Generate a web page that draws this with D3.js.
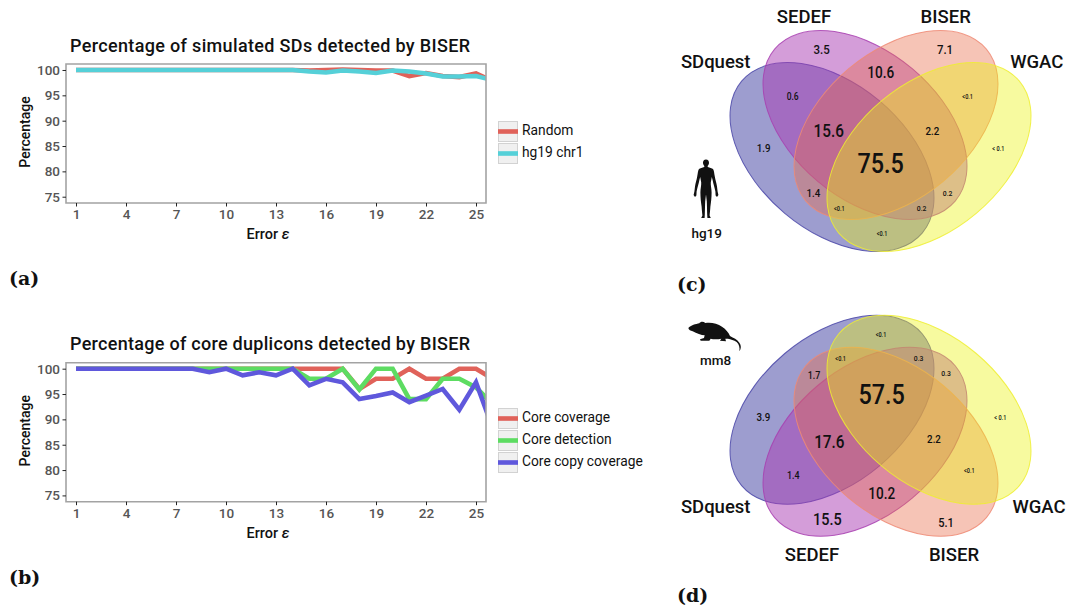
<!DOCTYPE html>
<html>
  <head>
    <meta charset="utf-8">
    <title>BISER</title>
    <style>
      body { margin: 0; padding: 0; background: #fff; font-family: 'Roboto', sans-serif; }
      svg { display: block; }
    </style>
  </head>
  <body>
    <div id="chart"></div>
    <script src="https://cdnjs.cloudflare.com/ajax/libs/d3/7.8.5/d3.min.js"></script>
    <script>
      // Data
      const errors = d3.range(1, 27);
      const xTicks = [1, 4, 7, 10, 13, 16, 19, 22, 25];
      const yTicks = [75, 80, 85, 90, 95, 100];

      const randomSim = [100, 100, 100, 100, 100, 100, 100, 100, 100, 100, 100, 100, 100, 100, 99.9, 100, 100.1, 100, 99.9, 99.9, 98.8, 99.4, 98.8, 98.6, 99.3, 97.8];
      const hg19Sim = [100, 100, 100, 100, 100, 100, 100, 100, 100, 100, 100, 100, 100, 100, 99.7, 99.5, 99.9, 99.7, 99.4, 99.9, 99.7, 99.3, 98.7, 98.7, 98.8, 98];

      const coreCoverage = [100, 100, 100, 100, 100, 100, 100, 100, 100, 100, 100, 100, 100, 100, 100, 100, 100, 96, 98, 98, 100, 98, 98, 100, 100, 98];
      const coreDetection = [100, 100, 100, 100, 100, 100, 100, 100, 100, 100, 100, 100, 100, 100, 98, 98, 100, 95.9, 100, 100, 94, 94, 98, 98, 96.3, 93];
      const coreCopy = [100, 100, 100, 100, 100, 100, 100, 100, 99.3, 100, 98.7, 99.3, 98.7, 100, 96.7, 98, 97.3, 94, 94.6, 95.3, 93.4, 94.7, 96, 91.9, 97.3, 88.3];

      const tools = ['SDquest', 'SEDEF', 'BISER', 'WGAC'];
      const hg19Labels = ['3.5', '7.1', '10.6', '0.6', '<0.1', '15.6', '2.2', '< 0.1', '1.9', '75.5', '1.4', '0.2', '<0.1', '0.2', '<0.1'];
      const mm8Labels = ['<0.1', '<0.1', '0.3', '0.3', '1.7', '57.5', '< 0.1', '3.9', '17.6', '2.2', '1.4', '<0.1', '10.2', '15.5', '5.1'];

      // Styles and layout, kept apart from the values
      const RED = '#e0625a', TEAL = '#55d0d8', GREEN = '#5ddc62', BLUE = '#5f58dc';
      const TOOL_COLORS = ['#3c3ca0', '#aa3cb4', '#e86b48', '#ebf20f'];
      const TOOL_ALPHAS = [0.5, 0.5, 0.4, 0.4];
      const TOOL_STROKES = ['#4a46a8', '#a840b0', '#ee8a74', '#eeee30'];
      // offset of each ellipse centre from the diagram centre, and its tilt
      const ELLIPSE_DX = [-49, -16, 15, 48];
      const ELLIPSE_DY = [16, -16, -16, 16];
      const ELLIPSE_TILT = [40, 40, -40, -40];
      const ELLIPSE_RX = 118, ELLIPSE_RY = 73.5;

      const hg19Spots = [[455,148,13.5],[825,148,13.5],[632,218,16],[368,290,10],[893,290,6.5],[476,393,18],[787,393,11.5],[985,445,6.5],[281,445,11.5],[632,490,27.5],[430,578,11.5],[833,578,8],[508,625,6.5],[755,625,8],[636,700,6.5]];
      const mm8Spots = [[633,88,6.5],[512,160,6.5],[746,160,8],[828,205,8],[432,212,10.5],[635,268,27.5],[991,338,6.5],[280,335,11.5],[478,410,18],[792,402,11.5],[370,512,10.5],[898,497,6.5],[635,565,16],[472,642,17],[828,652,13]];

      const svg = d3.select('#chart').append('svg')
        .attr('width', 1067)
        .attr('height', 609);

      const x = d3.scaleLinear().domain([1, 25]).range([76, 476]);

      function drawChart(top, title, series, legendTop) {
        const bottom = top + 139;
        const y = d3.scaleLinear().domain([73.76, 101.18]).range([bottom, top]);
        const clipId = 'clip' + Math.round(top);
        const right = 486, left = 66;

        svg.append('clipPath').attr('id', clipId)
          .append('rect')
          .attr('x', left).attr('y', top)
          .attr('width', right - left).attr('height', bottom - top);

        // Lines
        const line = d3.line().x((d, i) => x(errors[i])).y(d => y(d));
        svg.append('g').attr('clip-path', `url(#${clipId})`)
          .selectAll('path')
          .data(series)
          .enter()
          .append('path')
          .attr('d', d => line(d.values))
          .attr('fill', 'none')
          .attr('stroke', d => d.color)
          .attr('stroke-width', 4.6)
          .attr('stroke-linejoin', 'miter');

        // Frame
        svg.append('path')
          .attr('d', `M${left},${top}H${right}V${bottom}H${left}Z`)
          .attr('fill', 'none')
          .attr('stroke', '#a3a3a3')
          .attr('stroke-width', 1.6);

        // Axes
        const xAxis = svg.append('g')
          .attr('transform', `translate(0,${bottom})`)
          .call(d3.axisBottom(x).tickValues(xTicks).tickSize(3.5).tickPadding(3));
        const yAxis = svg.append('g')
          .attr('transform', `translate(${left},0)`)
          .call(d3.axisLeft(y).tickValues(yTicks).tickSize(3.5).tickPadding(2.5));
        [xAxis, yAxis].forEach(a => {
          a.select('.domain').remove();
          a.selectAll('line').attr('stroke', '#222').attr('stroke-width', 1);
          a.selectAll('text')
            .attr('fill', '#555')
            .style('font-family', "'Roboto', sans-serif")
            .style('font-weight', 500)
            .style('font-size', '13.5px');
        });

        // Titles
        svg.append('text')
          .attr('x', 70).attr('y', top - 12.5)
          .attr('font-size', 18)
          .attr('font-weight', 500)
          .attr('textLength', 400)
          .attr('fill', '#111')
          .text(title);

        svg.append('text')
          .attr('transform', `translate(29.5,${top + 68}) rotate(-90)`)
          .attr('text-anchor', 'middle')
          .attr('font-size', 14)
          .attr('font-weight', 500)
          .attr('fill', '#111')
          .text('Percentage');

        const xLabel = svg.append('text')
          .attr('x', 268).attr('y', top + 175)
          .attr('text-anchor', 'middle')
          .attr('font-size', 14.5)
          .attr('font-weight', 500)
          .attr('fill', '#111');
        xLabel.append('tspan').text('Error ');
        xLabel.append('tspan').attr('font-style', 'italic').text('ε');

        // Legend
        const legend = svg.selectAll(null)
          .data(series)
          .enter()
          .append('g')
          .attr('transform', (d, i) => `translate(498,${legendTop + i * 22})`);
        legend.append('rect')
          .attr('x', 0.5).attr('y', 0.5)
          .attr('width', 19).attr('height', 20)
          .attr('fill', '#f0f0f0')
          .attr('stroke', '#d2d2d2');
        legend.append('rect')
          .attr('x', 0).attr('y', 8.2)
          .attr('width', 20).attr('height', 4.6)
          .attr('fill', d => d.color);
        legend.append('text')
          .attr('x', 24).attr('y', 14)
          .attr('font-size', 13.8)
          .attr('fill', '#111')
          .text(d => d.name);
      }

      drawChart(64, 'Percentage of simulated SDs detected by BISER', [
        {name: 'Random', values: randomSim, color: RED},
        {name: 'hg19 chr1', values: hg19Sim, color: TEAL}
      ], 121);

      drawChart(362.7, 'Percentage of core duplicons detected by BISER', [
        {name: 'Core coverage', values: coreCoverage, color: RED},
        {name: 'Core detection', values: coreDetection, color: GREEN},
        {name: 'Core copy coverage', values: coreCopy, color: BLUE}
      ], 408);

      function drawVenn(cy, flip, labels, spots, zoomTop, names) {
        const vx = d3.scaleLinear().domain([-160, 160]).range([881 - 160, 881 + 160]);
        const vy = d3.scaleLinear().domain([-160, 160]).range(flip ? [cy + 160, cy - 160] : [cy - 160, cy + 160]);

        svg.append('g').selectAll('ellipse')
          .data(tools)
          .enter()
          .append('ellipse')
          .attr('rx', ELLIPSE_RX)
          .attr('ry', ELLIPSE_RY)
          .attr('transform', (d, i) => `translate(${vx(ELLIPSE_DX[i])},${vy(ELLIPSE_DY[i])}) rotate(${flip ? -ELLIPSE_TILT[i] : ELLIPSE_TILT[i]})`)
          .attr('fill', (d, i) => TOOL_COLORS[i])
          .attr('fill-opacity', (d, i) => TOOL_ALPHAS[i])
          .attr('stroke', (d, i) => TOOL_STROKES[i])
          .attr('stroke-opacity', 0.85)
          .attr('stroke-width', 1);

        // Region labels, spots are in zoom-crop pixels (3x); narrowed to the DIN-like width of the original
        svg.append('g').selectAll('text')
          .data(labels)
          .enter()
          .append('text')
          .attr('x', (d, i) => 670 + spots[i][0] / 3)
          .attr('y', (d, i) => zoomTop + spots[i][1] / 3)
          .attr('dy', '0.36em')
          .attr('text-anchor', 'middle')
          .attr('font-size', (d, i) => spots[i][2])
          .attr('font-weight', 500)
          .attr('fill', '#111')
          .text(d => d)
          .each(function() {
            d3.select(this)
              .attr('lengthAdjust', 'spacingAndGlyphs')
              .attr('textLength', this.getComputedTextLength() * 0.85);
          });

        // Tool names
        svg.append('g').selectAll('text')
          .data(tools)
          .enter()
          .append('text')
          .attr('x', (d, i) => names[i][0])
          .attr('y', (d, i) => names[i][1])
          .attr('dy', '0.36em')
          .attr('text-anchor', 'middle')
          .attr('font-size', 18.5)
          .attr('font-weight', 500)
          .attr('fill', '#111')
          .text(d => d);
      }

      drawVenn(141, false, hg19Labels, hg19Spots, 0, [[715.7, 61], [804, 16], [945.7, 16], [1036.7, 61]]);
      drawVenn(425.8, true, mm8Labels, mm8Spots, 305, [[715.7, 506], [812, 554], [954, 554], [1039, 506]]);

      // Human silhouette
      svg.append('path')
        .attr('transform', 'translate(706,159.5)')
        .attr('fill', '#111')
        .attr('d', 'M0,0C2,0 3.2,1.6 3,3.6C2.9,5 2.2,6 1.6,6.6L1.8,7.6C3.5,8.4 6,8.6 7,9.6C8,10.8 8.2,14 8.8,17C9.3,20 10.6,24 11,27L11.6,32L12.4,35.6L11,37.4L9.6,36L9.4,32C8.6,28 7.2,24 6.6,20.6L5.8,17.5L4.8,23C4.6,26 5.6,29 5.6,33C5.6,38 5,43 4.4,47C4.2,50 3.8,54 3.6,56L4.8,58.4H1.4L1.2,55C1,50 1,46 0.8,42L0,35L-0.8,42C-1,46 -1,50 -1.2,55L-1.4,58.4H-4.8L-3.6,56C-3.8,54 -4.2,50 -4.4,47C-5,43 -5.6,38 -5.6,33C-5.6,29 -4.6,26 -4.8,23L-5.8,17.5L-6.6,20.6C-7.2,24 -8.6,28 -9.4,32L-9.6,36L-11,37.4L-12.4,35.6L-11.6,32L-11,27C-10.6,24 -9.3,20 -8.8,17C-8.2,14 -8,10.8 -7,9.6C-6,8.6 -3.5,8.4 -1.8,7.6L-1.6,6.6C-2.2,6 -2.9,5 -3,3.6C-3.2,1.6 -2,0 0,0Z');

      // Mouse silhouette, drawn in 3x crop pixels
      svg.append('path')
        .attr('transform', 'translate(680,312) scale(0.3333)')
        .attr('fill', '#111')
        .attr('d', 'M25,48C32,40 48,36 58,34C62,28 70,28 76,33C92,30 112,34 126,44C138,52 146,62 150,72C160,78 172,82 178,92C184,100 184,110 178,118C180,108 178,98 170,90C162,84 152,82 144,80L136,80L138,88L120,86L124,80C114,82 100,82 92,80L88,86H62L60,82L72,78L74,70C64,70 50,64 38,58C32,56 26,54 25,48Z');

      svg.append('text').attr('x', 706.7).attr('y', 233).attr('dy', '0.36em')
        .attr('text-anchor', 'middle').attr('font-size', 13.5).attr('font-weight', 500).attr('fill', '#111').text('hg19');
      svg.append('text').attr('x', 715.7).attr('y', 360).attr('dy', '0.36em')
        .attr('text-anchor', 'middle').attr('font-size', 13.5).attr('font-weight', 500).attr('fill', '#111').text('mm8');

      // Panel letters
      const panelLetters = ['(a)', '(b)', '(c)', '(d)'];
      const panelSpots = [[9, 285], [9, 584], [677, 291], [677, 602]];
      svg.append('g').selectAll('text')
        .data(panelLetters)
        .enter()
        .append('text')
        .attr('x', (d, i) => panelSpots[i][0])
        .attr('y', (d, i) => panelSpots[i][1])
        .attr('font-family', "'DejaVu Serif', serif")
        .attr('font-weight', 700)
        .attr('font-size', 19)
        .attr('fill', '#111')
        .text(d => d);
    </script>
  </body>
</html>
